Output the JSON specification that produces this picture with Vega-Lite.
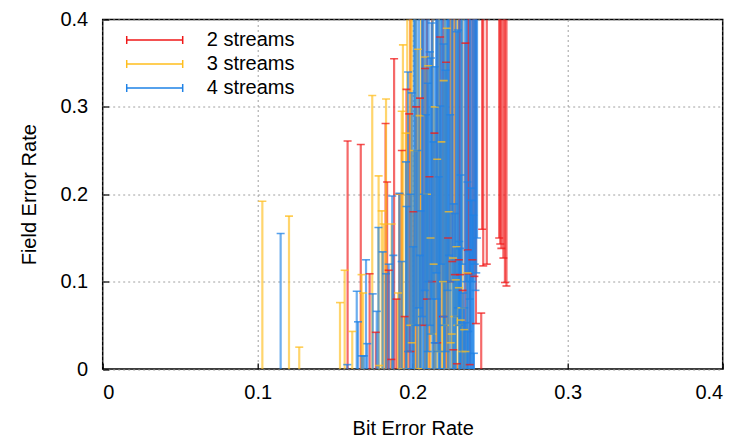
{
  "$schema": "https://vega.github.io/schema/vega-lite/v6.json",
  "width": 620,
  "height": 349.5,
  "autosize": {"type": "none"},
  "padding": {"left": 102.7, "top": 19.5, "right": 18.3, "bottom": 69},
  "background": "white",
  "config": {
    "font": "Liberation Sans",
    "view": {"stroke": "black", "strokeWidth": 1.5},
    "axis": {
      "domain": false,
      "grid": true,
      "gridColor": "#a0a0a0",
      "gridDash": [2, 3],
      "gridWidth": 1,
      "tickColor": "black",
      "tickSize": -6,
      "tickWidth": 1.2,
      "labelFontSize": 20,
      "titleFontSize": 20,
      "labelColor": "black",
      "titleColor": "black",
      "titleFontWeight": "normal",
      "labelFont": "Liberation Sans",
      "titleFont": "Liberation Sans"
    }
  },
  "data": {
    "values": [
      {"s": "2 streams", "x": 0.158, "lo": -0.15, "hi": 0.261},
      {"s": "2 streams", "x": 0.1665, "lo": -0.15, "hi": 0.257},
      {"s": "2 streams", "x": 0.1722, "lo": -0.12, "hi": 0.109},
      {"s": "2 streams", "x": 0.1762, "lo": -0.2, "hi": 0.042},
      {"s": "2 streams", "x": 0.1825, "lo": -0.1, "hi": 0.281},
      {"s": "2 streams", "x": 0.1835, "lo": -0.1, "hi": 0.214},
      {"s": "2 streams", "x": 0.1845, "lo": -0.15, "hi": 0.113},
      {"s": "2 streams", "x": 0.1862, "lo": -0.2, "hi": 0.011},
      {"s": "2 streams", "x": 0.188, "lo": -0.05, "hi": 0.355},
      {"s": "2 streams", "x": 0.1895, "lo": -0.12, "hi": 0.08},
      {"s": "2 streams", "x": 0.1915, "lo": -0.1, "hi": 0.2},
      {"s": "2 streams", "x": 0.193, "lo": -0.08, "hi": 0.25},
      {"s": "2 streams", "x": 0.1948, "lo": -0.15, "hi": 0.06},
      {"s": "2 streams", "x": 0.196, "lo": -0.05, "hi": 0.32},
      {"s": "2 streams", "x": 0.1978, "lo": -0.06, "hi": 0.292},
      {"s": "2 streams", "x": 0.1985, "lo": 0.02, "hi": 0.45},
      {"s": "2 streams", "x": 0.2005, "lo": -0.1, "hi": 0.18},
      {"s": "2 streams", "x": 0.2022, "lo": -0.05, "hi": 0.3},
      {"s": "2 streams", "x": 0.2047, "lo": -0.04, "hi": 0.31},
      {"s": "2 streams", "x": 0.2065, "lo": 0.05, "hi": 0.5},
      {"s": "2 streams", "x": 0.208, "lo": -0.02, "hi": 0.344},
      {"s": "2 streams", "x": 0.2092, "lo": 0.08, "hi": 0.55},
      {"s": "2 streams", "x": 0.2108, "lo": -0.1, "hi": 0.22},
      {"s": "2 streams", "x": 0.2125, "lo": 0.1, "hi": 0.52},
      {"s": "2 streams", "x": 0.214, "lo": -0.08, "hi": 0.27},
      {"s": "2 streams", "x": 0.2158, "lo": 0.03, "hi": 0.48},
      {"s": "2 streams", "x": 0.2177, "lo": -0.02, "hi": 0.38},
      {"s": "2 streams", "x": 0.2195, "lo": 0.06, "hi": 0.5},
      {"s": "2 streams", "x": 0.2215, "lo": -0.03, "hi": 0.351},
      {"s": "2 streams", "x": 0.2228, "lo": -0.15, "hi": 0.15},
      {"s": "2 streams", "x": 0.224, "lo": 0.1, "hi": 0.55},
      {"s": "2 streams", "x": 0.2255, "lo": 0.123, "hi": 0.5},
      {"s": "2 streams", "x": 0.2262, "lo": -0.2, "hi": 0.022},
      {"s": "2 streams", "x": 0.2272, "lo": 0.108, "hi": 0.48},
      {"s": "2 streams", "x": 0.2285, "lo": -0.2, "hi": 0.006},
      {"s": "2 streams", "x": 0.2298, "lo": 0.125, "hi": 0.52},
      {"s": "2 streams", "x": 0.2305, "lo": 0.108, "hi": 0.5},
      {"s": "2 streams", "x": 0.2322, "lo": -0.15, "hi": 0.09},
      {"s": "2 streams", "x": 0.234, "lo": -0.01, "hi": 0.373},
      {"s": "2 streams", "x": 0.2355, "lo": 0.136, "hi": 0.55},
      {"s": "2 streams", "x": 0.236, "lo": 0.109, "hi": 0.5},
      {"s": "2 streams", "x": 0.2368, "lo": 0.005, "hi": 0.45},
      {"s": "2 streams", "x": 0.2385, "lo": 0.125, "hi": 0.52},
      {"s": "2 streams", "x": 0.2398, "lo": 0.106, "hi": 0.5},
      {"s": "2 streams", "x": 0.2408, "lo": 0.052, "hi": 0.46},
      {"s": "2 streams", "x": 0.2442, "lo": -0.15, "hi": 0.064},
      {"s": "2 streams", "x": 0.2448, "lo": 0.16, "hi": 0.56},
      {"s": "2 streams", "x": 0.2455, "lo": 0.118, "hi": 0.5},
      {"s": "2 streams", "x": 0.2478, "lo": 0.12, "hi": 0.52},
      {"s": "2 streams", "x": 0.2558, "lo": 0.15, "hi": 0.55},
      {"s": "2 streams", "x": 0.2565, "lo": 0.143, "hi": 0.53},
      {"s": "2 streams", "x": 0.2572, "lo": 0.138, "hi": 0.56},
      {"s": "2 streams", "x": 0.2585, "lo": 0.127, "hi": 0.5},
      {"s": "2 streams", "x": 0.2595, "lo": 0.099, "hi": 0.48},
      {"s": "2 streams", "x": 0.2605, "lo": 0.095, "hi": 0.5},

      {"s": "3 streams", "x": 0.103, "lo": -0.2, "hi": 0.192},
      {"s": "3 streams", "x": 0.1202, "lo": -0.2, "hi": 0.175},
      {"s": "3 streams", "x": 0.1268, "lo": -0.2, "hi": 0.025},
      {"s": "3 streams", "x": 0.1531, "lo": -0.2, "hi": 0.076},
      {"s": "3 streams", "x": 0.1561, "lo": -0.15, "hi": 0.113},
      {"s": "3 streams", "x": 0.161, "lo": -0.2, "hi": 0.043},
      {"s": "3 streams", "x": 0.167, "lo": -0.15, "hi": 0.108},
      {"s": "3 streams", "x": 0.168, "lo": -0.15, "hi": 0.087},
      {"s": "3 streams", "x": 0.1739, "lo": -0.05, "hi": 0.313},
      {"s": "3 streams", "x": 0.178, "lo": -0.1, "hi": 0.221},
      {"s": "3 streams", "x": 0.1783, "lo": -0.2, "hi": 0.004},
      {"s": "3 streams", "x": 0.18, "lo": -0.1, "hi": 0.181},
      {"s": "3 streams", "x": 0.1812, "lo": -0.12, "hi": 0.166},
      {"s": "3 streams", "x": 0.1828, "lo": -0.05, "hi": 0.309},
      {"s": "3 streams", "x": 0.1864, "lo": -0.1, "hi": 0.166},
      {"s": "3 streams", "x": 0.1905, "lo": -0.15, "hi": 0.087},
      {"s": "3 streams", "x": 0.1915, "lo": -0.1, "hi": 0.2},
      {"s": "3 streams", "x": 0.1929, "lo": -0.05, "hi": 0.295},
      {"s": "3 streams", "x": 0.1937, "lo": 0.0, "hi": 0.371},
      {"s": "3 streams", "x": 0.1955, "lo": -0.05, "hi": 0.27},
      {"s": "3 streams", "x": 0.1965, "lo": -0.05, "hi": 0.45},
      {"s": "3 streams", "x": 0.1985, "lo": 0.05, "hi": 0.5},
      {"s": "3 streams", "x": 0.1994, "lo": 0.03, "hi": 0.48},
      {"s": "3 streams", "x": 0.2008, "lo": -0.1, "hi": 0.25},
      {"s": "3 streams", "x": 0.2018, "lo": -0.1, "hi": 0.42},
      {"s": "3 streams", "x": 0.2034, "lo": 0.0, "hi": 0.366},
      {"s": "3 streams", "x": 0.2045, "lo": -0.08, "hi": 0.29},
      {"s": "3 streams", "x": 0.2055, "lo": 0.0, "hi": 0.48},
      {"s": "3 streams", "x": 0.208, "lo": -0.03, "hi": 0.357},
      {"s": "3 streams", "x": 0.2092, "lo": -0.1, "hi": 0.2},
      {"s": "3 streams", "x": 0.21, "lo": -0.04, "hi": 0.347},
      {"s": "3 streams", "x": 0.2115, "lo": -0.12, "hi": 0.15},
      {"s": "3 streams", "x": 0.2128, "lo": 0.04, "hi": 0.45},
      {"s": "3 streams", "x": 0.2135, "lo": -0.12, "hi": 0.12},
      {"s": "3 streams", "x": 0.2142, "lo": -0.06, "hi": 0.3},
      {"s": "3 streams", "x": 0.2158, "lo": -0.1, "hi": 0.24},
      {"s": "3 streams", "x": 0.217, "lo": 0.02, "hi": 0.42},
      {"s": "3 streams", "x": 0.2185, "lo": -0.08, "hi": 0.26},
      {"s": "3 streams", "x": 0.2195, "lo": -0.15, "hi": 0.1},
      {"s": "3 streams", "x": 0.22, "lo": -0.05, "hi": 0.33},
      {"s": "3 streams", "x": 0.2208, "lo": 0.05, "hi": 0.45},
      {"s": "3 streams", "x": 0.222, "lo": 0.0, "hi": 0.39},
      {"s": "3 streams", "x": 0.2232, "lo": -0.12, "hi": 0.18},
      {"s": "3 streams", "x": 0.2245, "lo": 0.03, "hi": 0.45},
      {"s": "3 streams", "x": 0.2252, "lo": -0.2, "hi": 0.04},
      {"s": "3 streams", "x": 0.226, "lo": -0.1, "hi": 0.127},
      {"s": "3 streams", "x": 0.2268, "lo": 0.06, "hi": 0.5},
      {"s": "3 streams", "x": 0.2278, "lo": -0.12, "hi": 0.102},
      {"s": "3 streams", "x": 0.2282, "lo": -0.1, "hi": 0.14},
      {"s": "3 streams", "x": 0.2288, "lo": 0.05, "hi": 0.47},
      {"s": "3 streams", "x": 0.2298, "lo": -0.15, "hi": 0.093},
      {"s": "3 streams", "x": 0.231, "lo": -0.15, "hi": 0.056},
      {"s": "3 streams", "x": 0.2315, "lo": -0.18, "hi": 0.07},
      {"s": "3 streams", "x": 0.232, "lo": 0.02, "hi": 0.44},
      {"s": "3 streams", "x": 0.2332, "lo": -0.16, "hi": 0.045},
      {"s": "3 streams", "x": 0.234, "lo": -0.2, "hi": 0.02},
      {"s": "3 streams", "x": 0.2352, "lo": -0.12, "hi": 0.11},

      {"s": "4 streams", "x": 0.1148, "lo": -0.15, "hi": 0.155},
      {"s": "4 streams", "x": 0.1578, "lo": -0.2, "hi": 0.005},
      {"s": "4 streams", "x": 0.1639, "lo": -0.12, "hi": 0.089},
      {"s": "4 streams", "x": 0.1647, "lo": -0.15, "hi": 0.054},
      {"s": "4 streams", "x": 0.1672, "lo": -0.2, "hi": 0.015},
      {"s": "4 streams", "x": 0.1685, "lo": -0.2, "hi": 0.015},
      {"s": "4 streams", "x": 0.1699, "lo": -0.1, "hi": 0.125},
      {"s": "4 streams", "x": 0.1707, "lo": -0.2, "hi": 0.029},
      {"s": "4 streams", "x": 0.1742, "lo": -0.12, "hi": 0.086},
      {"s": "4 streams", "x": 0.1768, "lo": -0.15, "hi": 0.066},
      {"s": "4 streams", "x": 0.1779, "lo": -0.05, "hi": 0.162},
      {"s": "4 streams", "x": 0.1806, "lo": -0.08, "hi": 0.134},
      {"s": "4 streams", "x": 0.1828, "lo": -0.1, "hi": 0.109},
      {"s": "4 streams", "x": 0.1845, "lo": -0.1, "hi": 0.12},
      {"s": "4 streams", "x": 0.1868, "lo": -0.02, "hi": 0.198},
      {"s": "4 streams", "x": 0.1875, "lo": -0.08, "hi": 0.13},
      {"s": "4 streams", "x": 0.1914, "lo": -0.02, "hi": 0.201},
      {"s": "4 streams", "x": 0.1929, "lo": -0.08, "hi": 0.123},
      {"s": "4 streams", "x": 0.1957, "lo": 0.0, "hi": 0.237},
      {"s": "4 streams", "x": 0.196, "lo": -0.03, "hi": 0.186},
      {"s": "4 streams", "x": 0.197, "lo": 0.02, "hi": 0.34},
      {"s": "4 streams", "x": 0.1985, "lo": -0.1, "hi": 0.2},
      {"s": "4 streams", "x": 0.1994, "lo": 0.0, "hi": 0.316},
      {"s": "4 streams", "x": 0.2003, "lo": -0.08, "hi": 0.14},
      {"s": "4 streams", "x": 0.2008, "lo": -0.1, "hi": 0.42},
      {"s": "4 streams", "x": 0.2015, "lo": 0.05, "hi": 0.45},
      {"s": "4 streams", "x": 0.2025, "lo": 0.05, "hi": 0.5},
      {"s": "4 streams", "x": 0.203, "lo": -0.05, "hi": 0.25},
      {"s": "4 streams", "x": 0.204, "lo": 0.07, "hi": 0.5},
      {"s": "4 streams", "x": 0.2047, "lo": -0.08, "hi": 0.13},
      {"s": "4 streams", "x": 0.2052, "lo": -0.02, "hi": 0.181},
      {"s": "4 streams", "x": 0.206, "lo": 0.06, "hi": 0.48},
      {"s": "4 streams", "x": 0.2065, "lo": -0.05, "hi": 0.45},
      {"s": "4 streams", "x": 0.2072, "lo": -0.1, "hi": 0.2},
      {"s": "4 streams", "x": 0.2078, "lo": 0.09, "hi": 0.52},
      {"s": "4 streams", "x": 0.2085, "lo": 0.0, "hi": 0.291},
      {"s": "4 streams", "x": 0.2092, "lo": 0.0, "hi": 0.5},
      {"s": "4 streams", "x": 0.2097, "lo": 0.02, "hi": 0.327},
      {"s": "4 streams", "x": 0.2103, "lo": 0.1, "hi": 0.55},
      {"s": "4 streams", "x": 0.211, "lo": 0.05, "hi": 0.363},
      {"s": "4 streams", "x": 0.2118, "lo": 0.04, "hi": 0.356},
      {"s": "4 streams", "x": 0.2122, "lo": 0.08, "hi": 0.396},
      {"s": "4 streams", "x": 0.2128, "lo": -0.05, "hi": 0.48},
      {"s": "4 streams", "x": 0.2135, "lo": -0.05, "hi": 0.26},
      {"s": "4 streams", "x": 0.2142, "lo": 0.03, "hi": 0.346},
      {"s": "4 streams", "x": 0.2148, "lo": -0.18, "hi": 0.03},
      {"s": "4 streams", "x": 0.2152, "lo": 0.11, "hi": 0.5},
      {"s": "4 streams", "x": 0.2155, "lo": 0.08, "hi": 0.5},
      {"s": "4 streams", "x": 0.2162, "lo": 0.02, "hi": 0.5},
      {"s": "4 streams", "x": 0.2168, "lo": -0.1, "hi": 0.22},
      {"s": "4 streams", "x": 0.2172, "lo": -0.1, "hi": 0.45},
      {"s": "4 streams", "x": 0.2177, "lo": 0.0, "hi": 0.301},
      {"s": "4 streams", "x": 0.2183, "lo": 0.12, "hi": 0.52},
      {"s": "4 streams", "x": 0.219, "lo": 0.1, "hi": 0.55},
      {"s": "4 streams", "x": 0.2199, "lo": 0.05, "hi": 0.372},
      {"s": "4 streams", "x": 0.2202, "lo": -0.15, "hi": 0.06},
      {"s": "4 streams", "x": 0.2205, "lo": 0.0, "hi": 0.5},
      {"s": "4 streams", "x": 0.2212, "lo": 0.02, "hi": 0.342},
      {"s": "4 streams", "x": 0.2218, "lo": 0.1, "hi": 0.5},
      {"s": "4 streams", "x": 0.2225, "lo": 0.09, "hi": 0.5},
      {"s": "4 streams", "x": 0.2228, "lo": -0.05, "hi": 0.46},
      {"s": "4 streams", "x": 0.2235, "lo": 0.13, "hi": 0.55},
      {"s": "4 streams", "x": 0.2242, "lo": -0.02, "hi": 0.291},
      {"s": "4 streams", "x": 0.2252, "lo": 0.1, "hi": 0.52},
      {"s": "4 streams", "x": 0.2258, "lo": 0.0, "hi": 0.5},
      {"s": "4 streams", "x": 0.2265, "lo": -0.05, "hi": 0.189},
      {"s": "4 streams", "x": 0.2272, "lo": -0.1, "hi": 0.178},
      {"s": "4 streams", "x": 0.2278, "lo": -0.08, "hi": 0.45},
      {"s": "4 streams", "x": 0.2285, "lo": 0.06, "hi": 0.386},
      {"s": "4 streams", "x": 0.2292, "lo": 0.07, "hi": 0.388},
      {"s": "4 streams", "x": 0.2298, "lo": 0.05, "hi": 0.5},
      {"s": "4 streams", "x": 0.23, "lo": -0.06, "hi": 0.146},
      {"s": "4 streams", "x": 0.2305, "lo": -0.1, "hi": 0.138},
      {"s": "4 streams", "x": 0.231, "lo": -0.02, "hi": 0.222},
      {"s": "4 streams", "x": 0.2312, "lo": -0.1, "hi": 0.44},
      {"s": "4 streams", "x": 0.2318, "lo": 0.12, "hi": 0.55},
      {"s": "4 streams", "x": 0.2325, "lo": -0.15, "hi": 0.087},
      {"s": "4 streams", "x": 0.2332, "lo": -0.15, "hi": 0.07},
      {"s": "4 streams", "x": 0.2335, "lo": 0.02, "hi": 0.5},
      {"s": "4 streams", "x": 0.234, "lo": -0.15, "hi": 0.053},
      {"s": "4 streams", "x": 0.2345, "lo": 0.1, "hi": 0.5},
      {"s": "4 streams", "x": 0.235, "lo": -0.05, "hi": 0.46},
      {"s": "4 streams", "x": 0.2353, "lo": 0.0, "hi": 0.214},
      {"s": "4 streams", "x": 0.2358, "lo": -0.18, "hi": 0.043},
      {"s": "4 streams", "x": 0.2362, "lo": -0.1, "hi": 0.135},
      {"s": "4 streams", "x": 0.2368, "lo": 0.08, "hi": 0.5},
      {"s": "4 streams", "x": 0.2372, "lo": 0.0, "hi": 0.5},
      {"s": "4 streams", "x": 0.2375, "lo": 0.0, "hi": 0.207},
      {"s": "4 streams", "x": 0.238, "lo": -0.05, "hi": 0.193},
      {"s": "4 streams", "x": 0.2385, "lo": 0.1, "hi": 0.52},
      {"s": "4 streams", "x": 0.239, "lo": -0.05, "hi": 0.176},
      {"s": "4 streams", "x": 0.2392, "lo": -0.02, "hi": 0.48},
      {"s": "4 streams", "x": 0.2395, "lo": -0.2, "hi": 0.018},
      {"s": "4 streams", "x": 0.24, "lo": 0.12, "hi": 0.55},
      {"s": "4 streams", "x": 0.2405, "lo": 0.09, "hi": 0.5},
      {"s": "4 streams", "x": 0.241, "lo": 0.11, "hi": 0.52},
      {"s": "4 streams", "x": 0.2415, "lo": 0.15, "hi": 0.5}
    ]
  },
  "encoding": {
    "x": {"field": "x", "type": "quantitative", "scale": {"domain": [0, 0.4], "nice": false, "zero": false}, "title": "Bit Error Rate",
      "axis": {"values": [0, 0.1, 0.2, 0.3, 0.4], "format": "~g", "labelPadding": 19, "titleBaseline": "alphabetic", "titleY": 65.5}},
    "color": {"field": "s", "type": "nominal",
      "scale": {"domain": ["2 streams", "3 streams", "4 streams"], "range": ["#f01818", "#ffbe1e", "#1f82e6"]}}
  },
  "layer": [
    {
      "mark": {"type": "rule", "clip": true, "strokeWidth": 2.2, "opacity": 0.65},
      "encoding": {
        "y": {"field": "lo", "type": "quantitative", "scale": {"domain": [0, 0.4], "nice": false, "zero": false}, "title": "Field Error Rate",
          "axis": {"values": [0, 0.1, 0.2, 0.3, 0.4], "format": "~g", "labelPadding": 21, "titleBaseline": "alphabetic", "titleX": -67, "titleY": 174.75, "titleAngle": -90, "titleAlign": "center"}},
        "y2": {"field": "hi"},
        "color": {"field": "s", "type": "nominal",
          "legend": {"orient": "none", "legendX": 23, "legendY": 8.5, "title": null, "labelFontSize": 20, "labelColor": "black", "labelFont": "Liberation Sans",
            "symbolType": "M-1,0H1M-1,-0.14V0.14M1,-0.14V0.14", "symbolSize": 3136, "symbolStrokeWidth": 1.5, "symbolOpacity": 1,
            "clipHeight": 24, "rowPadding": 0, "labelOffset": 23, "padding": 0}}
      }
    },
    {
      "mark": {"type": "tick", "clip": true, "orient": "horizontal", "size": 8, "thickness": 1.6, "opacity": 0.75},
      "encoding": {
        "y": {"field": "lo", "type": "quantitative"},
        "color": {"field": "s", "type": "nominal", "legend": null}
      }
    },
    {
      "mark": {"type": "tick", "clip": true, "orient": "horizontal", "size": 8, "thickness": 1.6, "opacity": 0.75},
      "encoding": {
        "y": {"field": "hi", "type": "quantitative"},
        "color": {"field": "s", "type": "nominal", "legend": null}
      }
    }
  ]
}
